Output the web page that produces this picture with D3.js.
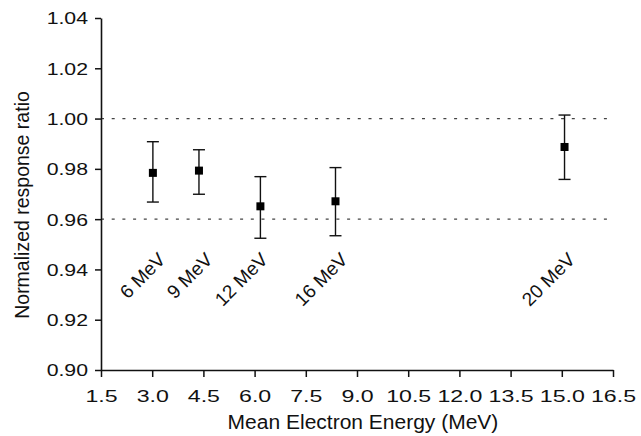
<!DOCTYPE html>
<html><head><meta charset="utf-8">
<script src="https://cdn.jsdelivr.net/npm/d3@7"></script>
<style>body{margin:0;background:#fff}svg{display:block}text{font-family:"Liberation Sans",Arial,sans-serif;fill:#111}</style>
</head><body><svg id="c" width="641" height="436"></svg>
<script>
const labels = ["6 MeV","9 MeV","12 MeV","16 MeV","20 MeV"];
const energy = [3.02, 4.37, 6.17, 8.37, 15.08];
const ratio  = [0.9784, 0.9793, 0.9651, 0.9671, 0.9887];
const errHi  = [0.9908, 0.9876, 0.9769, 0.9805, 1.0014];
const errLo  = [0.9668, 0.9699, 0.9524, 0.9534, 0.9758];
const labelAt = [3.42, 4.8, 6.42, 8.76, 15.42];
const labelLevel = 0.9434;
const xTicks = [1.5,3.0,4.5,6.0,7.5,9.0,10.5,12.0,13.5,15.0,16.5];
const yTicks = [0.90,0.92,0.94,0.96,0.98,1.00,1.02,1.04];
const refLines = [1.00, 0.96];

const svg = d3.select("#c");
const x = d3.scaleLinear().domain([1.5,16.5]).range([101,613]);
const y = d3.scaleLinear().domain([0.90,1.04]).range([370,18]);
function stretch(sel, k){ sel.each(function(){ const w=this.getComputedTextLength(); d3.select(this).attr("textLength",w*k).attr("lengthAdjust","spacingAndGlyphs"); }); }

svg.append("g").selectAll("line").data(refLines).join("line")
  .attr("x1",x(1.5)).attr("x2",x(16.5)).attr("y1",d=>y(d)).attr("y2",d=>y(d))
  .attr("stroke","#444").attr("stroke-width",1.3).attr("stroke-dasharray","3,7.7");

const xa = svg.append("g").attr("transform",`translate(0,${y(0.90)})`)
  .call(d3.axisBottom(x).tickValues(xTicks).tickFormat(d3.format(".1f")).tickSize(7).tickSizeOuter(0));
const ya = svg.append("g").attr("transform",`translate(${x(1.5)},0)`)
  .call(d3.axisLeft(y).tickValues(yTicks).tickFormat(d3.format(".2f")).tickSize(6).tickSizeOuter(0));
[xa,ya].forEach(a=>{
  a.select(".domain").attr("stroke","#111").attr("stroke-width",1.6);
  a.selectAll(".tick line").attr("stroke","#111").attr("stroke-width",1.5);
  a.selectAll(".tick text").attr("font-size",17).attr("fill","#111")
   .style("font-family","'Liberation Sans',Arial,sans-serif");
});
xa.selectAll(".tick text").attr("y",32).attr("dy",0);
ya.selectAll(".tick text").attr("x",-13).attr("dy","0.35em");
stretch(xa.selectAll(".tick text"),1.36);
stretch(ya.selectAll(".tick text"),1.25);

const g = svg.append("g");
const idx = d3.range(energy.length);
g.selectAll(".eb").data(idx).join("line")
  .attr("x1",i=>x(energy[i])).attr("x2",i=>x(energy[i]))
  .attr("y1",i=>y(errHi[i])).attr("y2",i=>y(errLo[i]))
  .attr("stroke","#111").attr("stroke-width",1.4);
[errHi,errLo].forEach(arr=>{
  g.selectAll(null).data(idx).enter().append("line")
   .attr("x1",i=>x(energy[i])-6).attr("x2",i=>x(energy[i])+6)
   .attr("y1",i=>y(arr[i])).attr("y2",i=>y(arr[i]))
   .attr("stroke","#111").attr("stroke-width",1.4);
});
g.selectAll("rect").data(idx).join("rect")
  .attr("x",i=>x(energy[i])-4).attr("y",i=>y(ratio[i])-4)
  .attr("width",8).attr("height",8).attr("fill","#000");

g.selectAll(".lab").data(idx).join("text")
  .attr("transform",i=>`translate(${x(labelAt[i])},${y(labelLevel)}) rotate(-45)`)
  .attr("text-anchor","end").attr("font-size",19).text(i=>labels[i]);

const xt = svg.append("text").attr("x",(x(1.5)+x(16.5))/2+6).attr("y",429)
  .attr("text-anchor","middle").attr("font-size",20).text("Mean Electron Energy (MeV)");
stretch(xt,1.05);
svg.append("text").attr("transform",`translate(29,205) rotate(-90)`)
  .attr("text-anchor","middle").attr("font-size",19.5).text("Normalized response ratio");
</script></body></html>
